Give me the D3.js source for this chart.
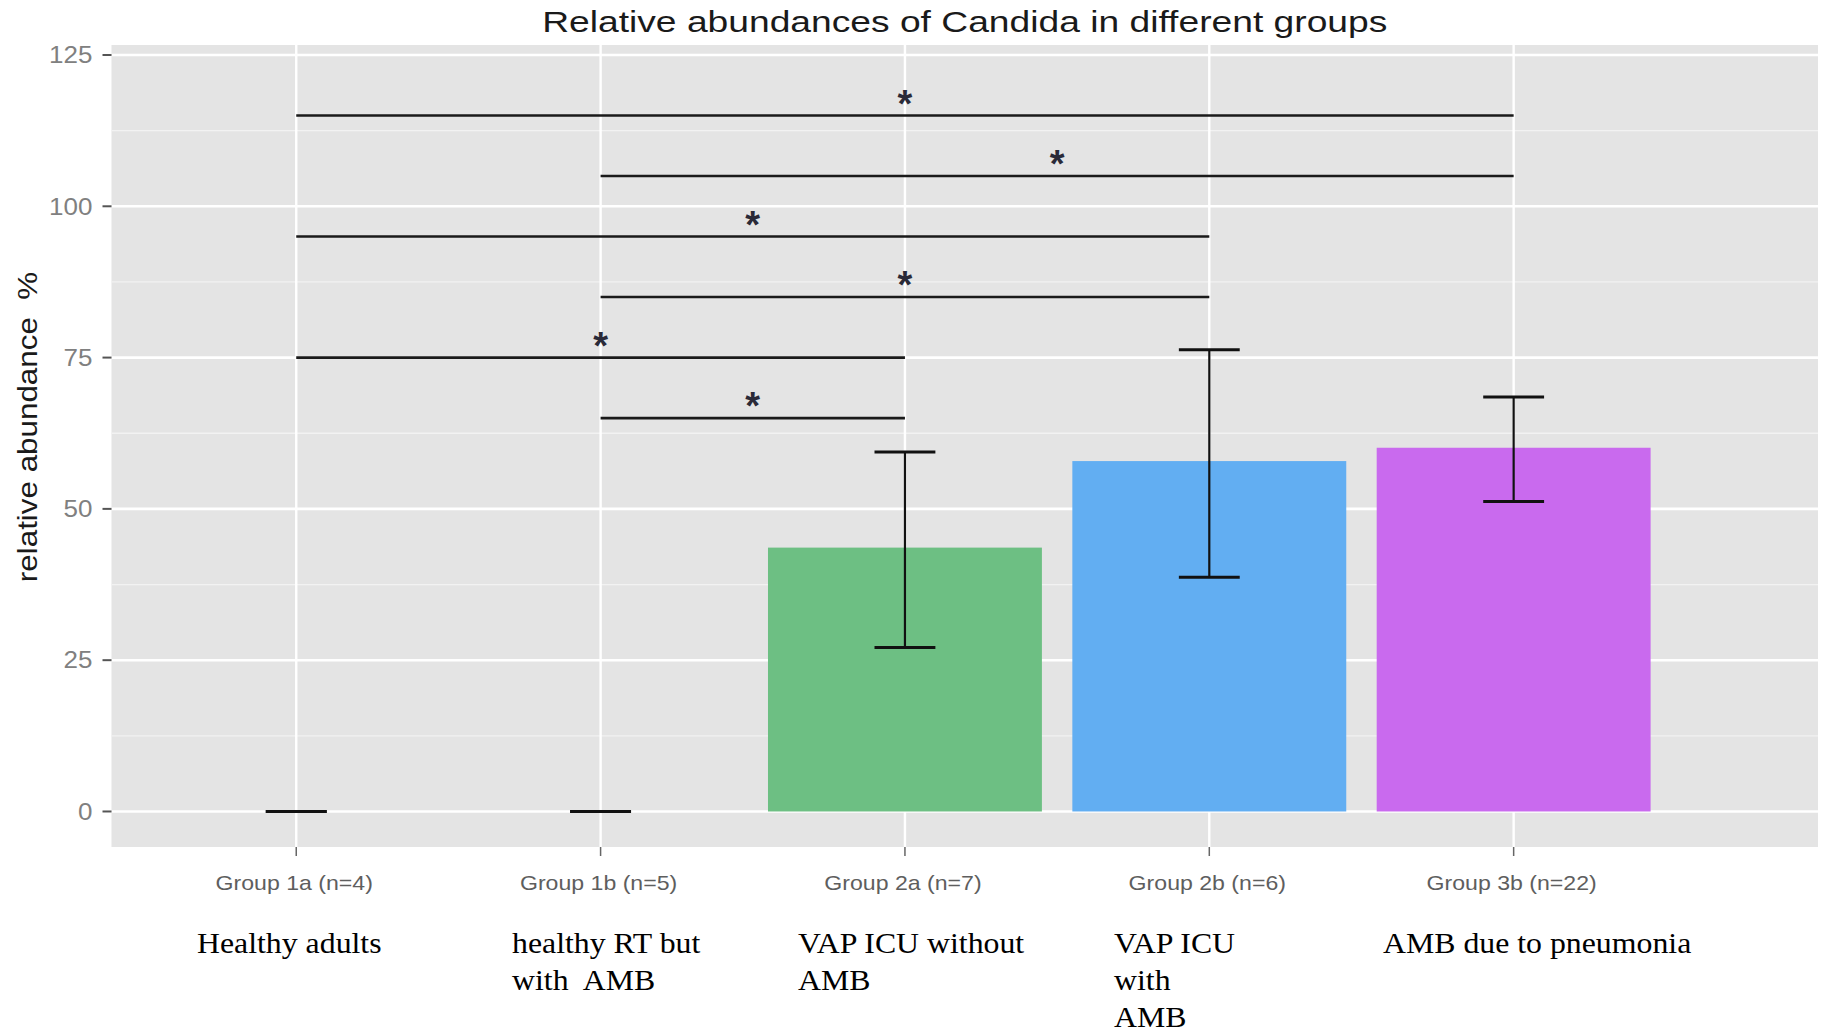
<!DOCTYPE html>
<html>
<head>
<meta charset="utf-8">
<script src="https://cdn.jsdelivr.net/npm/d3@7"></script>
<style>
  html, body { margin: 0; padding: 0; background: #ffffff; }
  svg { display: block; }
</style>
</head>
<body>
<svg id="chart" width="1825" height="1034"></svg>
<script>
// ---------- data ----------
const groups = ["Group 1a (n=4)", "Group 1b (n=5)", "Group 2a (n=7)", "Group 2b (n=6)", "Group 3b (n=22)"];
const descriptions = [
  ["Healthy adults"],
  ["healthy RT but", "with  AMB"],
  ["VAP ICU without", "AMB"],
  ["VAP ICU", "with", "AMB"],
  ["AMB due to pneumonia"]
];
const means = [0, 0, 43.6, 57.9, 60.1];
const lowerErr = [0, 0, 27.1, 38.7, 51.2];
const upperErr = [0, 0, 59.4, 76.3, 68.5];
const barColors = ["#f8766d", "#b79f00", "#6dbf83", "#62aef2", "#c96aee"];

const yTicks = [0, 25, 50, 75, 100, 125];
const yMinor = [12.5, 37.5, 62.5, 87.5, 112.5];

const compFrom = [0, 1, 0, 1, 0, 1];
const compTo = [4, 4, 3, 3, 2, 2];
const compLevel = [115, 105, 95, 85, 75, 65];
const compLabel = ["*", "*", "*", "*", "*", "*"];

const titleText = "Relative abundances of Candida in different groups";
const yTitleText = "relative abundance  %";

// ---------- layout ----------
const panel = { left: 111.5, right: 1818, top: 45, bottom: 847 };
const svg = d3.select("#chart");

const x = d3.scaleLinear().domain([-0.607, 5.0]).range([panel.left, panel.right]);
const y = d3.scaleLinear().domain([-5.87, 126.65]).range([panel.bottom, panel.top]);
const step = x(1) - x(0);

function stretch(sel, k) {
  sel.each(function () {
    const w = this.getComputedTextLength();
    d3.select(this).attr("textLength", w * k).attr("lengthAdjust", "spacingAndGlyphs");
  });
}

// panel background
svg.append("rect")
  .attr("x", panel.left).attr("y", panel.top)
  .attr("width", panel.right - panel.left).attr("height", panel.bottom - panel.top)
  .attr("fill", "#e4e4e4");

// minor grid
svg.append("g").selectAll("line").data(yMinor).join("line")
  .attr("x1", panel.left).attr("x2", panel.right)
  .attr("y1", d => y(d)).attr("y2", d => y(d))
  .attr("stroke", "#f2f2f2").attr("stroke-width", 1.3);

// major grid
svg.append("g").selectAll("line").data(yTicks).join("line")
  .attr("x1", panel.left).attr("x2", panel.right)
  .attr("y1", d => y(d)).attr("y2", d => y(d))
  .attr("stroke", "#ffffff").attr("stroke-width", 2.6);

svg.append("g").selectAll("line").data(groups).join("line")
  .attr("x1", (d, i) => x(i)).attr("x2", (d, i) => x(i))
  .attr("y1", panel.top).attr("y2", panel.bottom)
  .attr("stroke", "#ffffff").attr("stroke-width", 2.4);

// bars
svg.append("g").selectAll("rect").data(means).join("rect")
  .attr("x", (d, i) => x(i) - step * 0.45)
  .attr("width", step * 0.9)
  .attr("y", d => y(d))
  .attr("height", d => y(0) - y(d))
  .attr("fill", (d, i) => barColors[i]);

// error bars
const eb = svg.append("g").attr("stroke", "#111111");
groups.forEach((g, i) => {
  const cx = x(i), hw = step * 0.1;
  if (upperErr[i] !== lowerErr[i]) {
    eb.append("line").attr("x1", cx).attr("x2", cx)
      .attr("y1", y(upperErr[i])).attr("y2", y(lowerErr[i])).attr("stroke-width", 2.2);
  }
  [upperErr[i], lowerErr[i]].forEach(v => {
    eb.append("line").attr("x1", cx - hw).attr("x2", cx + hw)
      .attr("y1", y(v)).attr("y2", y(v)).attr("stroke-width", 3);
  });
});

// significance brackets
const sig = svg.append("g");
compLevel.forEach((lv, k) => {
  sig.append("line")
    .attr("x1", x(compFrom[k])).attr("x2", x(compTo[k]))
    .attr("y1", y(lv)).attr("y2", y(lv))
    .attr("stroke", "#1a1a1a").attr("stroke-width", 2.6);
  sig.append("text")
    .attr("x", (x(compFrom[k]) + x(compTo[k])) / 2)
    .attr("y", y(lv) + 1)
    .attr("text-anchor", "middle")
    .attr("font-family", "Liberation Sans, Arial, sans-serif")
    .attr("font-size", 38)
    .attr("font-weight", "bold")
    .attr("fill", "#2a2a38")
    .text(compLabel[k]);
});

// y axis ticks + labels
const ya = svg.append("g");
ya.selectAll("line").data(yTicks).join("line")
  .attr("x1", panel.left - 9).attr("x2", panel.left)
  .attr("y1", d => y(d)).attr("y2", d => y(d))
  .attr("stroke", "#555555").attr("stroke-width", 2);
const yl = ya.selectAll("text").data(yTicks).join("text")
  .attr("x", panel.left - 19).attr("y", d => y(d))
  .attr("dy", "0.36em")
  .attr("text-anchor", "end")
  .attr("font-family", "Liberation Sans, Arial, sans-serif")
  .attr("font-size", 23)
  .attr("fill", "#808080")
  .text(d => d);
stretch(yl, 1.13);

// x axis ticks + labels
const xa = svg.append("g");
xa.selectAll("line").data(groups).join("line")
  .attr("x1", (d, i) => x(i)).attr("x2", (d, i) => x(i))
  .attr("y1", panel.bottom).attr("y2", panel.bottom + 9)
  .attr("stroke", "#666666").attr("stroke-width", 1.5);
const xl = xa.selectAll("text").data(groups).join("text")
  .attr("x", (d, i) => x(i) - 2).attr("y", 890)
  .attr("text-anchor", "middle")
  .attr("font-family", "Liberation Sans, Arial, sans-serif")
  .attr("font-size", 21)
  .attr("fill", "#5e5e5e")
  .text(d => d);
stretch(xl, 1.1);

// descriptions (serif)
const descX = [197, 512, 798, 1114, 1383];
const dg = svg.append("g");
descriptions.forEach((lines, i) => {
  lines.forEach((ln, j) => {
    const t = dg.append("text")
      .attr("x", descX[i]).attr("y", 953 + j * 37)
      .attr("font-family", "Liberation Serif, Times New Roman, serif")
      .attr("font-size", 30)
      .attr("fill", "#000000")
      .attr("xml:space", "preserve")
      .style("white-space", "pre")
      .text(ln);
    stretch(t, 1.06);
  });
});

// title
const tt = svg.append("text")
  .attr("x", (panel.left + panel.right) / 2).attr("y", 32)
  .attr("text-anchor", "middle")
  .attr("font-family", "Liberation Sans, Arial, sans-serif")
  .attr("font-size", 30)
  .attr("fill", "#1a1a1a")
  .text(titleText);
stretch(tt, 1.24);

// y title
const yt = svg.append("text")
  .attr("transform", "translate(37," + 427 + ") rotate(-90)")
  .attr("text-anchor", "middle")
  .attr("font-family", "Liberation Sans, Arial, sans-serif")
  .attr("font-size", 28)
  .attr("fill", "#1a1a1a")
  .style("white-space", "pre")
  .text(yTitleText);
stretch(yt, 1.12);
</script>
</body>
</html>
